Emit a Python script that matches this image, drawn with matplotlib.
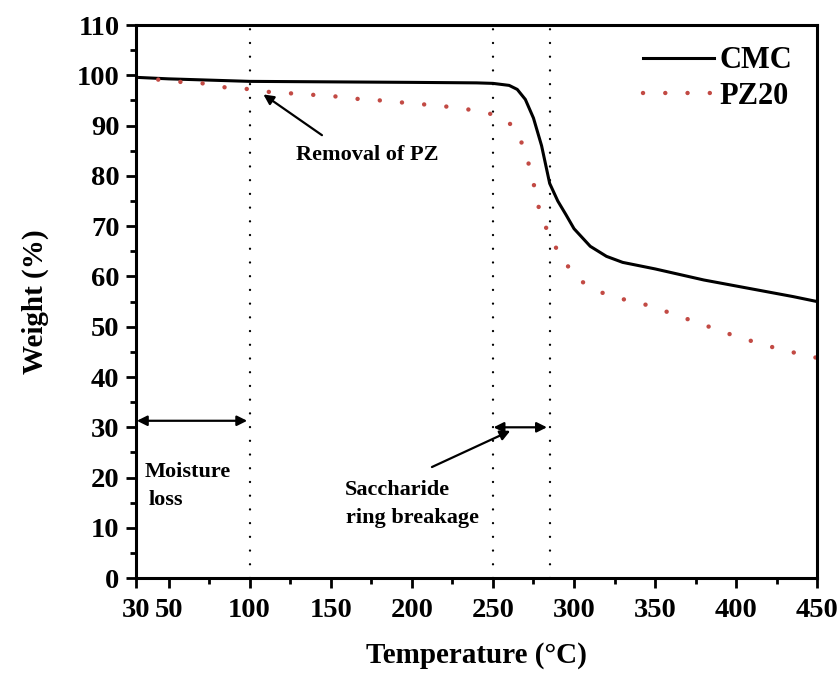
import matplotlib
matplotlib.use("Agg")
import matplotlib.pyplot as plt
from matplotlib.ticker import MultipleLocator

# TGA curves
temp_cmc = [30, 50, 100, 150, 200, 240, 250, 260, 265, 270, 275, 280, 285,
            290, 295, 300, 310, 320, 330, 350, 380, 410, 435, 450]
weight_cmc = [99.6, 99.3, 98.8, 98.7, 98.6, 98.5, 98.4, 98.0, 97.2, 95.2, 91.5,
              86.0, 78.5, 75.0, 72.3, 69.5, 66.0, 64.0, 62.8, 61.5, 59.3, 57.5,
              56.0, 55.0]

temp_pz = [30, 57, 71, 85, 98, 112, 126, 140, 153, 167, 181, 194, 208, 221,
           235, 248, 262, 269, 273, 276, 279, 285, 292, 302, 316, 330, 344,
           357, 371, 385, 398, 412, 425, 439, 450]
weight_pz = [99.6, 98.7, 98.4, 97.6, 97.3, 96.7, 96.4, 96.1, 95.8, 95.3, 95.0,
             94.6, 94.2, 93.8, 93.2, 92.4, 90.1, 85.8, 81.3, 77.2, 72.6, 68.0,
             63.9, 59.5, 56.9, 55.5, 54.4, 53.0, 51.4, 49.8, 48.3, 46.9, 45.7,
             44.6, 43.8]

stage_temps = [100, 250, 285]
xticks = [30, 50, 100, 150, 200, 250, 300, 350, 400, 450]
yticks = list(range(0, 111, 10))

plt.rcParams["font.family"] = ["Liberation Serif", "DejaVu Serif"]
plt.rcParams["font.weight"] = "bold"

fig = plt.figure(figsize=(8.4, 6.77), dpi=100)
ax = fig.add_axes([0.162, 0.146, 0.811, 0.817])

ax.plot(temp_cmc, weight_cmc, color="black", lw=2.2, label="CMC",
        solid_joinstyle="round")
ax.plot(temp_pz, weight_pz, color="#c24a44", lw=3.2, label="PZ20",
        linestyle=(0, (0.01, 5.0)), dash_capstyle="round")

for t in stage_temps:
    ax.axvline(t, color="black", lw=1.7, linestyle=(0, (0.01, 5.8)),
               dash_capstyle="round", zorder=1)

arrow_kw = dict(arrowstyle="-|>", color="black", lw=1.6, mutation_scale=15,
                shrinkA=0, shrinkB=0)
ax.annotate("", xy=(108.5, 96.2), xytext=(144.6, 88.1), arrowprops=arrow_kw)
ax.text(172.3, 84.1, "Removal of PZ", ha="center", va="center", fontsize=16,
        fontweight="bold")

dbl_kw = dict(arrow_kw, arrowstyle="<|-|>")
ax.annotate("", xy=(98.5, 31.3), xytext=(30.5, 31.3), arrowprops=dbl_kw)
ax.text(35.0, 21.1, "Moisture", ha="left", va="center", fontsize=16,
        fontweight="bold")
ax.text(37.5, 15.5, "loss", ha="left", va="center", fontsize=16,
        fontweight="bold")

ax.annotate("", xy=(283.3, 30.0), xytext=(250.4, 30.0), arrowprops=dbl_kw)
ax.annotate("", xy=(260.7, 29.3), xytext=(212.4, 22.1), arrowprops=arrow_kw)
ax.text(158.5, 17.5, "Saccharide", ha="left", va="center", fontsize=16,
        fontweight="bold")
ax.text(159.5, 11.9, "ring breakage", ha="left", va="center", fontsize=16,
        fontweight="bold")

ax.set_xlim(30, 450)
ax.set_ylim(0, 110)
ax.set_xticks(xticks)
ax.set_yticks(yticks)
ax.xaxis.set_minor_locator(MultipleLocator(25))
ax.yaxis.set_minor_locator(MultipleLocator(5))
ax.tick_params(which="major", direction="out", length=7, width=2,
               labelsize=20.5, top=False, right=False)
ax.tick_params(axis="x", which="major", pad=7)
ax.tick_params(axis="y", which="major", pad=5)
ax.tick_params(which="minor", direction="out", length=4, width=2,
               top=False, right=False)
for lbl in ax.get_xticklabels() + ax.get_yticklabels():
    lbl.set_fontweight("bold")
for sp in ax.spines.values():
    sp.set_linewidth(2.2)

ax.set_xlabel("Temperature (°C)", fontsize=21, fontweight="bold", labelpad=14)
ax.set_ylabel("Weight (%)", fontsize=21, fontweight="bold", labelpad=20)

leg = ax.legend(loc="upper right", frameon=False, fontsize=22,
                handlelength=2.3, handletextpad=0.2, labelspacing=0.2,
                borderaxespad=0.3, bbox_to_anchor=(0.995, 1.0))
for txt in leg.get_texts():
    txt.set_fontweight("bold")

fig.savefig("out.png", dpi=100)
